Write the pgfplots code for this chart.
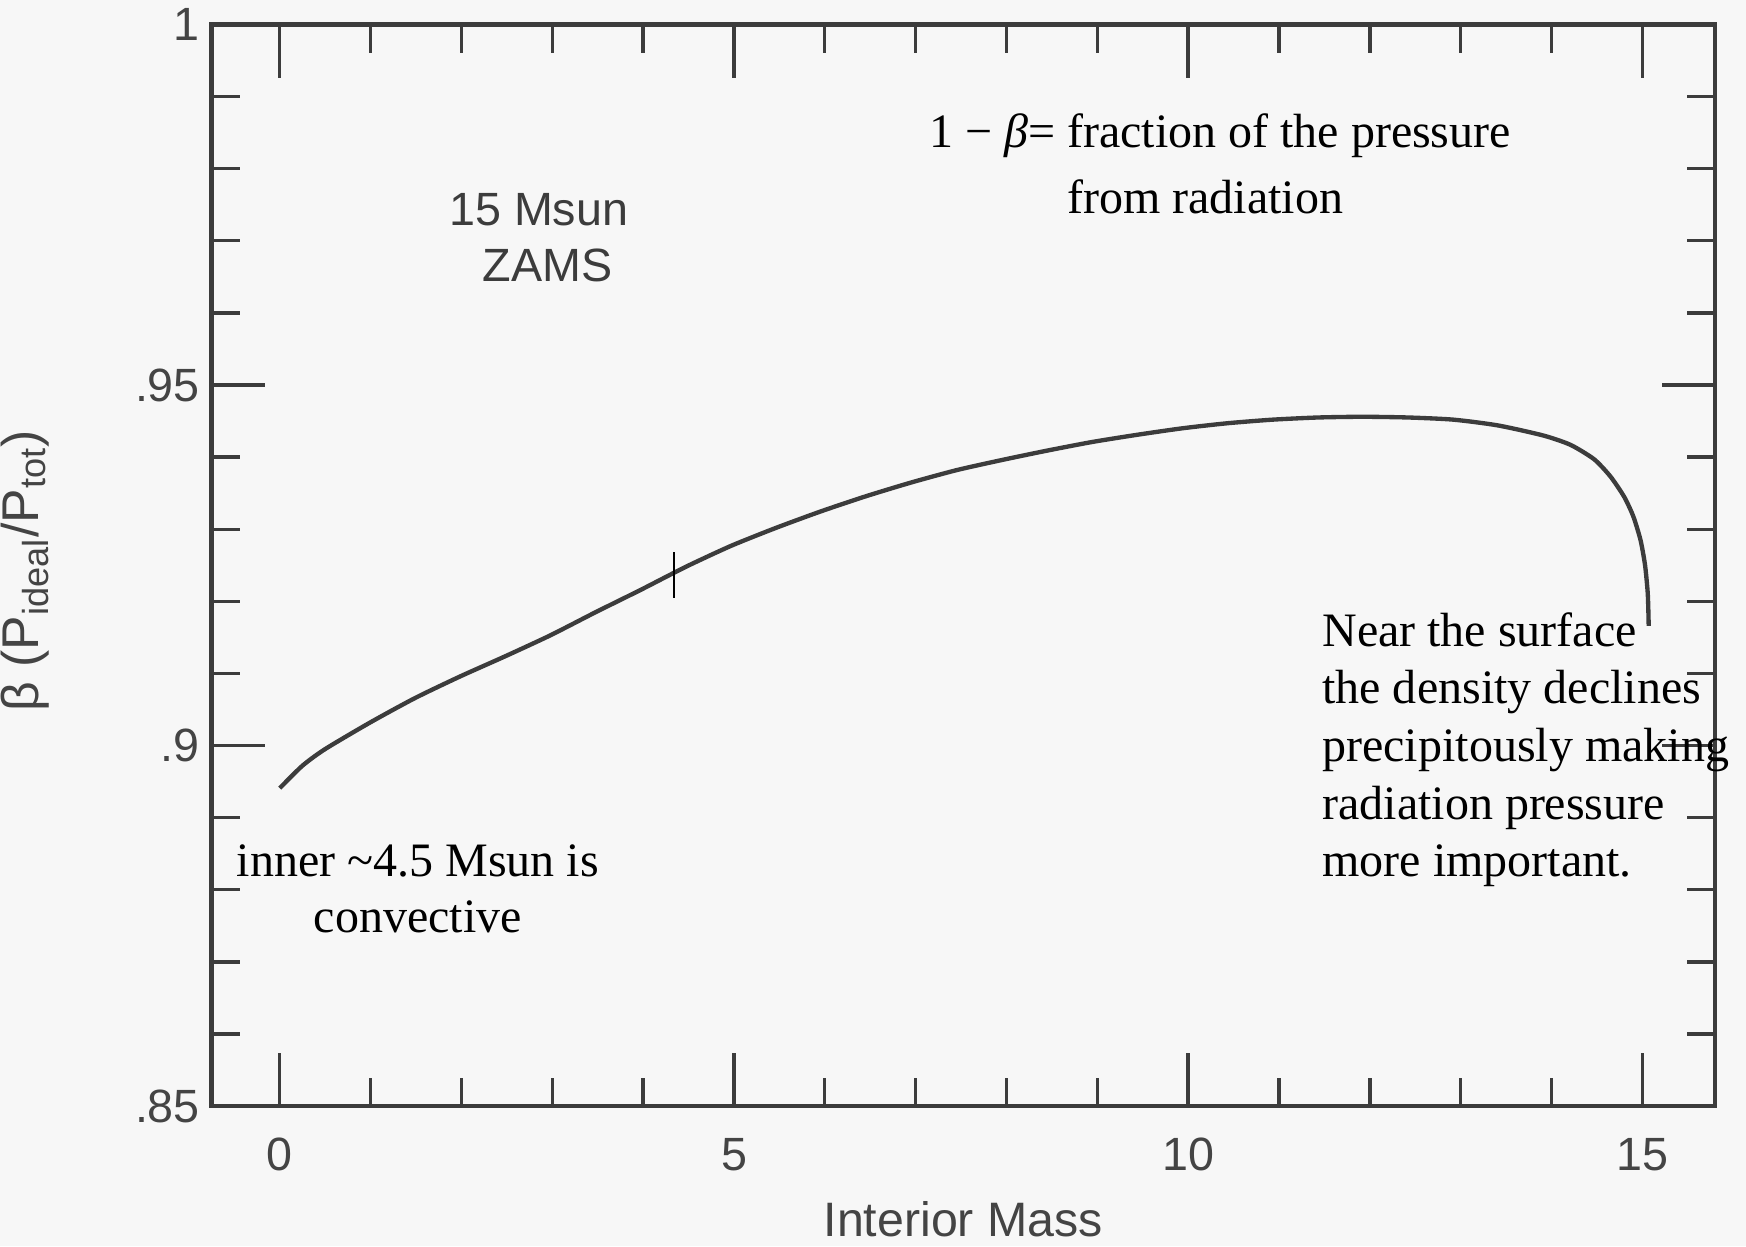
\documentclass[border=0pt]{standalone}
\usepackage{pgfplots}
\pgfplotsset{compat=1.18}
\usepackage{fontspec}
\setmainfont{Liberation Sans}
\newfontfamily\annfont{Liberation Serif}
\definecolor{bg}{RGB}{247,247,247}
\definecolor{ink}{RGB}{60,60,60}
\definecolor{lab}{RGB}{68,68,68}

\begin{document}
\begin{tikzpicture}
\useasboundingbox (-63.5pt,-42pt) rectangle (460.3pt,331.85pt);
\fill[bg] (-63.5pt,-42pt) rectangle (460.3pt,331.85pt);
\begin{axis}[
    scale only axis,
    width=451pt,
    height=324.5pt,
    xmin=-0.75, xmax=15.8,
    ymin=0.85, ymax=1,
    xtick={0,5,10,15},
    xticklabels={0,5,10,15},
    minor x tick num=4,
    ytick={0.85,0.9,0.95,1},
    yticklabels={.85,.9,.95,1},
    minor y tick num=4,
    tick align=inside,
    tick pos=both,
    major tick length=16pt,
    minor tick length=8.5pt,
    axis line style={draw=ink, line width=1.3pt},
    every tick/.style={draw=ink, line width=1pt},
    ticklabel style={font=\fontsize{14}{16}\selectfont, text=lab},
    xticklabel style={yshift=-6pt},
    xlabel={Interior Mass},
    ylabel={β (P\textsubscript{ideal}/P\textsubscript{tot})},
    label style={font=\fontsize{14.5}{16}\selectfont, text=lab},
    xlabel style={at={(axis description cs:0.5,0)}, anchor=center, yshift=-34pt},
    ylabel style={at={(axis description cs:-0.124,0.495)}, anchor=center, font=\fontsize{15.5}{17}\selectfont},
    clip=false
]
% beta along the 15 Msun ZAMS model
\addplot[ink, line width=1.3pt, smooth, tension=0.4] coordinates {
    (0,0.8941) (0.248,0.8972) (0.497,0.8995) (0.994,0.9032) (1.49,0.9066)
    (1.987,0.9096) (2.484,0.9124) (2.98,0.9153) (3.477,0.9185) (3.974,0.9216)
    (4.471,0.9248) (4.968,0.9277) (5.464,0.9302) (5.961,0.9325) (6.458,0.9346)
    (6.955,0.9365) (7.451,0.9382) (7.948,0.9396) (8.445,0.9409) (8.942,0.9421)
    (9.438,0.9431) (9.935,0.9440) (10.43,0.9447) (10.93,0.9452) (11.43,0.9455)
    (11.92,0.9456) (12.42,0.9455) (12.92,0.9452) (13.41,0.9444) (13.91,0.9430)
    (14.21,0.9417) (14.47,0.9397) (14.65,0.9373) (14.80,0.9345) (14.90,0.9318)
    (14.98,0.9285) (15.03,0.9250) (15.06,0.9210) (15.07,0.9166)
};
% edge of convective core
\addplot[black, line width=0.8pt] coordinates {(4.34,0.9205) (4.34,0.9269)};

\node[anchor=base, font=\fontsize{14}{16}\selectfont, text=ink] at (axis cs:2.85,0.97215) {15 Msun};
\node[anchor=base, font=\fontsize{14}{16}\selectfont, text=ink] at (axis cs:2.95,0.96431) {ZAMS};

\begin{scope}[every node/.style={font=\annfont\fontsize{14.4}{17}\selectfont, text=black, inner sep=0pt}]
\node[anchor=base east] at (axis cs:8.55,0.98298) {1 − \textit{β}=};
\node[anchor=base west] at (axis cs:8.66,0.98298) {fraction of the pressure};
\node[anchor=base west] at (axis cs:8.66,0.97375) {from radiation};
\node[anchor=base] at (axis cs:1.52,0.8819) {inner \char`\~4.5 Msun is};
\node[anchor=base] at (axis cs:1.52,0.8741) {convective};
\node[anchor=base west] at (axis cs:11.47,0.9138) {Near the surface};
\node[anchor=base west] at (axis cs:11.47,0.9058) {the density declines};
\node[anchor=base west] at (axis cs:11.47,0.8978) {precipitously making};
\node[anchor=base west] at (axis cs:11.47,0.8898) {radiation pressure};
\node[anchor=base west] at (axis cs:11.47,0.8818) {more important.};
\end{scope}
\end{axis}
\end{tikzpicture}
\end{document}
